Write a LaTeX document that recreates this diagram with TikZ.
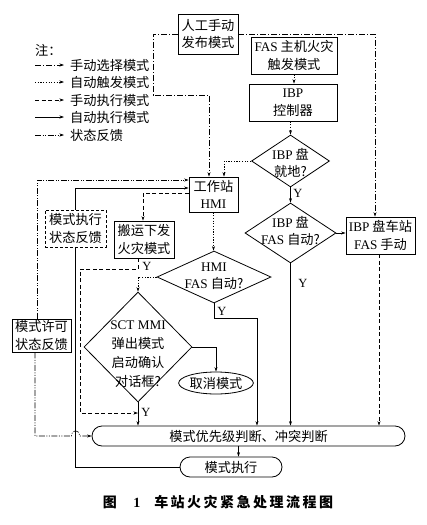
\documentclass[tikz,border=0pt]{standalone}
\usepackage{fontspec}
\setmainfont{Noto Sans CJK SC}
\newfontfamily\en{Liberation Serif}
\usetikzlibrary{shapes.geometric,shapes.misc,arrows.meta,calc}
\newcommand\kk{\kern2.5pt}
\begin{document}
\begin{tikzpicture}[x=1pt,y=-1pt,
  every node/.style={font=\fontsize{13.2pt}{17.5pt}\selectfont},
  box/.style={draw,line width=0.8pt,rectangle,align=center,inner sep=1pt},
  dia/.style={draw,line width=0.8pt,diamond,inner sep=0pt},
  dtext/.style={align=center,inner sep=0pt},
  tip/.style={-{Stealth[length=4.5pt,width=3pt]}},
  con/.style={line width=0.6pt},
  msel/.style={con,dash pattern=on 6pt off 2pt on 1pt off 2pt},
  atrig/.style={con,dash pattern=on 1.2pt off 1.5pt},
  mexe/.style={con,dash pattern=on 4pt off 2.5pt},
  aexe/.style={con},
  fb/.style={con,dash pattern=on 6pt off 1.5pt on 1pt off 1.5pt on 1pt off 1.5pt},
  ylab/.style={font=\en\fontsize{12.5pt}{14pt}\selectfont,inner sep=0pt},
  legtext/.style={anchor=west,inner sep=0pt}
]
\useasboundingbox (0,0) rectangle (427,525);

% legend
\node[legtext] (zhu) at (35,50) {注：};
\coordinate (l1a) at (35,65);  \coordinate (l1b) at (64,65);
\coordinate (l2a) at (35,82);  \coordinate (l2b) at (64,82);
\coordinate (l3a) at (35,100); \coordinate (l3b) at (64,100);
\coordinate (l4a) at (35,117); \coordinate (l4b) at (64,117);
\coordinate (l5a) at (35,135); \coordinate (l5b) at (64,135);
\draw[msel,tip] (l1a) -- (l1b);
\draw[atrig,tip] (l2a) -- (l2b);
\draw[mexe,tip] (l3a) -- (l3b);
\draw[aexe,tip] (l4a) -- (l4b);
\draw[fb,tip] (l5a) -- (l5b);
\node[legtext] (t1) at (70,65) {手动选择模式};
\node[legtext] (t2) at (70,82) {自动触发模式};
\node[legtext] (t3) at (70,100) {手动执行模式};
\node[legtext] (t4) at (70,117) {自动执行模式};
\node[legtext] (t5) at (70,135) {状态反馈};

% nodes
\node[box,minimum width=60,minimum height=40] (man) at (208,34) {人工手动\\发布模式};
\node[box,minimum width=86,minimum height=37] (fas) at (294,55.5) {{\en FAS} 主机火灾\\触发模式};
\node[box,minimum width=88,minimum height=37] (ibp) at (293,102.5) {{\en IBP}\\控制器};
\node[dia,minimum width=78,minimum height=52] (d1) at (290.5,161) {};
\node[dtext] (d1t) at (290.5,163) {{\en IBP} 盘\\就地?};
\node[dia,minimum width=91,minimum height=60] (d2) at (290.5,233) {};
\node[dtext] (d2t) at (290.5,231) {{\en IBP} 盘\\{\en FAS} 自动?};
\node[box,minimum width=69,minimum height=37] (ibpm) at (380.5,235.5) {{\en IBP} 盘车站\\{\en FAS} 手动};
\node[box,minimum width=49,minimum height=35] (hmi) at (213.5,194.5) {工作站\\{\en HMI}};
\node[dia,minimum width=114,minimum height=52] (d3) at (214,277) {};
\node[dtext] (d3t) at (214,276) {{\en HMI}\\{\en FAS} 自动?};
\node[box,minimum width=60,minimum height=37] (bys) at (144,239.5) {搬运下发\\火灾模式};
\node[box,dash pattern=on 3pt off 2pt,minimum width=61,minimum height=37] (mzx) at (75.5,228.5) {模式执行\\状态反馈};
\node[box,minimum width=59,minimum height=33] (mxk) at (41.5,335.5) {模式许可\\状态反馈};
\node[dia,minimum width=108,minimum height=110] (d4) at (138,347) {};
\node[dtext,font=\fontsize{13.2pt}{19pt}\selectfont] (d4t) at (138,354) {{\en SCT MMI}\\弹出模式\\启动确认\\对话框?};
\node[draw,ellipse,line width=0.8pt,minimum width=68,minimum height=22,inner sep=0pt] (qx) at (216,383) {取消模式};
\node[draw,rounded rectangle,line width=0.8pt,minimum width=313,minimum height=20,inner sep=0pt] (pri) at (248.5,436) {模式优先级判断、冲突判断};
\node[draw,rounded rectangle,line width=0.8pt,minimum width=102,minimum height=20,inner sep=0pt] (exe) at (231,467) {模式执行};

% Y labels
\node[ylab] (y1) at (298,193) {Y};
\node[ylab] (y2) at (303,283) {Y};
\node[ylab] (y3) at (147,266) {Y};
\node[ylab] (y4) at (222,311) {Y};
\node[ylab] (y5) at (146,412) {Y};

% coordinates
\coordinate (c1) at (153,95);
\coordinate (b1) at (80,269);
\coordinate (m1) at (138,413);
\coordinate (e1) at (257,318);
\coordinate (hop1) at (71.5,436);
\coordinate (hop2) at (79.5,436);

% connectors
\draw[msel,tip] (man.west) -| (c1) -| ([xshift=-4.5]hmi.north);
\draw[msel,tip] (man.east) -| ([xshift=-5.5]ibpm.north);
\draw[atrig,tip] (fas.south) -- (fas.south |- ibp.north);
\draw[atrig,tip] (ibp.south -| d1.north) -- (d1.north);
\draw[aexe,tip] (d1.south) -- (d2.north);
\draw[aexe,tip] (d2.east) -- (d2.east -| ibpm.west);
\draw[aexe,tip] (d2.south) -- (d2.south |- pri.north);
\draw[mexe,tip] ([xshift=-1.5]ibpm.south) -- ([xshift=-1.5]ibpm.south |- pri.north);
\draw[atrig,tip] (d1.west) -| ([xshift=10.5]hmi.north);
\draw[atrig,tip] (hmi.south) -- (hmi.south |- d3.north);
\draw[mexe,tip] ([yshift=1.5]hmi.west) -| ([xshift=-1]bys.north);
\draw[aexe,tip] (mzx.north) |- ([yshift=6.5]hmi.west);
\draw[fb,tip] ([xshift=-4.5]mxk.north) |- ([yshift=14.5]hmi.west);
\draw[fb,tip] ([xshift=-6.5]mxk.south) |- (hop1) .. controls (71.5,429) and (79.5,429) .. (hop2) -- (pri.west);
\draw[mexe,tip] ([xshift=-6]bys.south) |- (b1) |- (m1);
\draw[aexe,tip] (d4.south) -- (d4.south |- pri.north);
\draw[atrig,tip] (d3.west) -| (d4.north);
\draw[aexe,tip] (d3.south) |- (e1) -- (e1 |- pri.north);
\draw[aexe,tip] (d4.east) -| (qx.north);
\draw[aexe,tip] ([xshift=-10]pri.south) -- ([xshift=-10]pri.south |- exe.north);
\draw[aexe] (exe.west) -| (mzx.south);

% caption
\node[font=\fontsize{14pt}{16pt}\selectfont\bfseries] (cap) at (218,502) {图\kk\quad{\en\bfseries 1}\quad 车\kk 站\kk 火\kk 灾\kk 紧\kk 急\kk 处\kk 理\kk 流\kk 程\kk 图};
\end{tikzpicture}
\end{document}
